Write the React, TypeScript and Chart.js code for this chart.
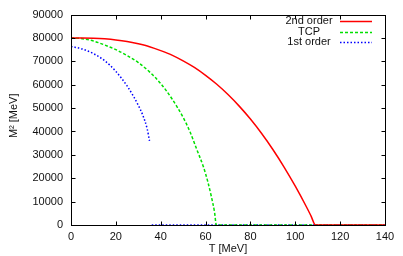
import React, { useEffect, useRef } from "react";
import { Chart, registerables } from "chart.js";

Chart.register(...registerables);

// 2nd order transition
const T_SECOND = [0, 5, 10, 15, 20, 25, 30, 35, 40, 45, 50, 55, 60, 65, 70, 75, 80, 85, 90, 95, 100, 105, 107, 109, 120, 140];
const M_SECOND = [80000, 79980, 79870, 79620, 79180, 78500, 77500, 76270, 74600, 72660, 70200, 67380, 64000, 60190, 55800, 50850, 45300, 39120, 32300, 24800, 16600, 7700, 3900, 0, 0, 0];

// tricritical point
const T_TCP = [0, 5, 10, 15, 20, 25, 30, 35, 40, 45, 50, 53, 56, 59, 61, 62.5, 64, 64.8, 80, 140];
const M_TCP = [80000, 79700, 78700, 77000, 75000, 72500, 69500, 65500, 60500, 54000, 46000, 40000, 32500, 25000, 18500, 12500, 5500, 0, 0, 0];

// 1st order transition (jumps to zero)
const T_FIRST = [0, 5, 10, 15, 20, 25, 28, 30, 32, 34, 35, 35.5, 36, 60, 140];
const M_FIRST = [76400, 75300, 73300, 70300, 65700, 59500, 54800, 51200, 47000, 41000, 36000, null, 0, 0, 0];

const SERIES_LABELS = ["2nd order", "TCP", "1st order"];
const X_TITLE = "T [MeV]";
const Y_TITLE = "M\u00B2 [MeV]";

const COLORS = ["#ff0000", "#00e000", "#0000ff"];
const DASHES: number[][] = [[], [3, 2], [1.5, 2]];

const FONT = "'Liberation Sans', Arial, sans-serif";

const toPoints = (xs: number[], ys: (number | null)[]) => xs.map((x, i) => ({ x, y: ys[i] }));

const framePlugin = {
  id: "frame",
  afterDatasetsDraw(chart: any) {
    const { ctx, chartArea: a, scales } = chart;
    const L = Math.round(a.left) + 0.5;
    const R = Math.round(a.right) + 0.5;
    const T = Math.round(a.top) + 0.5;
    const B = Math.round(a.bottom) + 0.5;
    ctx.save();
    ctx.strokeStyle = "#000";
    ctx.lineWidth = 1;
    ctx.setLineDash([]);
    ctx.strokeRect(L, T, R - L, B - T);
    const tl = 4;
    ctx.beginPath();
    for (const t of scales.x.ticks) {
      const px = Math.round(scales.x.getPixelForValue(t.value)) + 0.5;
      ctx.moveTo(px, B);
      ctx.lineTo(px, B - tl);
      ctx.moveTo(px, T);
      ctx.lineTo(px, T + tl);
    }
    for (const t of scales.y.ticks) {
      const py = Math.round(scales.y.getPixelForValue(t.value)) + 0.5;
      ctx.moveTo(L, py);
      ctx.lineTo(L + tl, py);
      ctx.moveTo(R, py);
      ctx.lineTo(R - tl, py);
    }
    ctx.stroke();

    // y axis title (rotated)
    ctx.font = `11px ${FONT}`;
    ctx.fillStyle = "#111";
    ctx.textAlign = "center";
    ctx.textBaseline = "middle";
    ctx.save();
    ctx.translate(14, (a.top + a.bottom) / 2 - 4);
    ctx.rotate(-Math.PI / 2);
    ctx.fillText(Y_TITLE, 0, 0);
    ctx.restore();

    // legend
    const rows = [21, 32, 42];
    SERIES_LABELS.forEach((lab, i) => {
      const y = rows[i];
      ctx.fillStyle = "#111";
      ctx.fillText(lab, 309, y);
      ctx.strokeStyle = COLORS[i];
      ctx.lineWidth = 1.5;
      ctx.setLineDash(DASHES[i]);
      ctx.beginPath();
      ctx.moveTo(340, y + 0.5);
      ctx.lineTo(372, y + 0.5);
      ctx.stroke();
    });
    ctx.restore();
  },
};

export default function App() {
  const ref = useRef<HTMLCanvasElement>(null);
  useEffect(() => {
    if (!ref.current) return;
    const seriesT = [T_SECOND, T_TCP, T_FIRST];
    const seriesM = [M_SECOND, M_TCP, M_FIRST];
    const chart = new Chart(ref.current, {
      type: "line",
      data: {
        datasets: SERIES_LABELS.map((label, i) => ({
          label,
          data: toPoints(seriesT[i], seriesM[i] as any),
          borderColor: COLORS[i],
          backgroundColor: COLORS[i],
          borderWidth: 1.5,
          borderDash: DASHES[i],
          pointRadius: 0,
          fill: false,
          spanGaps: false,
          clip: 0,
          cubicInterpolationMode: "monotone" as const,
        })),
      },
      options: {
        animation: false,
        responsive: false,
        layout: { padding: { left: 0, top: 11, right: 18, bottom: 0 } },
        plugins: { legend: { display: false }, tooltip: { enabled: false } },
        scales: {
          x: {
            type: "linear",
            min: 0,
            max: 140,
            grid: { display: false, drawTicks: false },
            border: { display: false },
            ticks: {
              stepSize: 20,
              padding: 5,
              color: "#111",
              font: { family: FONT, size: 11 },
              callback: (v: any) => String(v),
            },
            title: {
              display: true,
              text: X_TITLE,
              color: "#111",
              font: { family: FONT, size: 11 },
              padding: { top: 0, bottom: 0 },
            },
            afterFit: (s: any) => {
              s.height = 31;
            },
          },
          y: {
            type: "linear",
            min: 0,
            max: 90000,
            grid: { display: false, drawTicks: false },
            border: { display: false },
            ticks: {
              stepSize: 10000,
              padding: 8,
              color: "#111",
              font: { family: FONT, size: 11 },
              callback: (v: any) => String(v),
            },
            title: { display: false },
            afterFit: (s: any) => {
              s.width = 71;
            },
          },
        },
      },
      plugins: [framePlugin],
    });
    return () => chart.destroy();
  }, []);
  return (
    <div style={{ position: "absolute", left: 0, top: 0, width: 403, height: 256, background: "#fff" }}>
      <canvas ref={ref} width={403} height={256} />
    </div>
  );
}
